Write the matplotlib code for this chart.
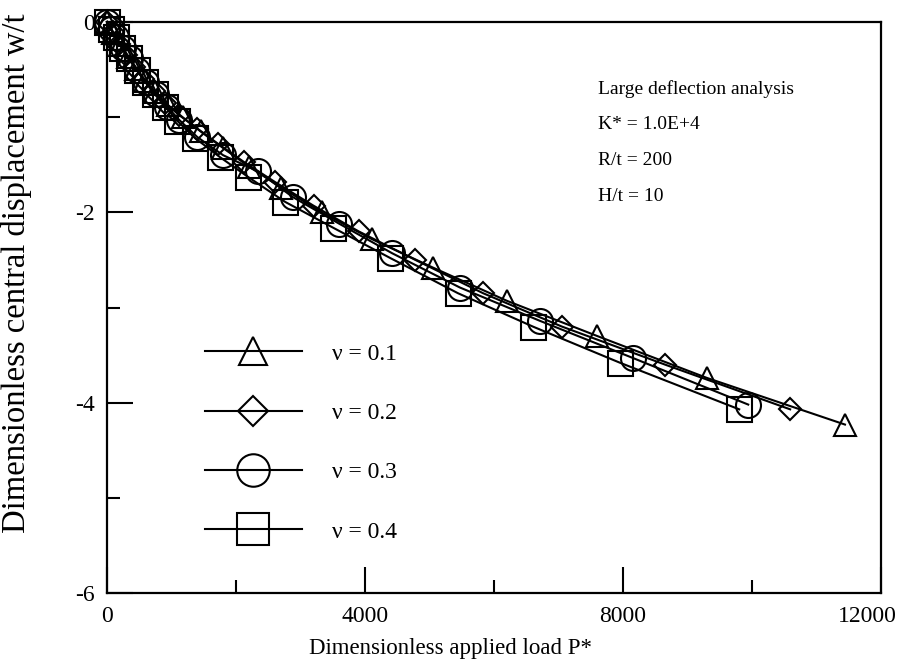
import numpy as np
import matplotlib
matplotlib.use('Agg')
import matplotlib.pyplot as plt
from matplotlib.ticker import MultipleLocator
from matplotlib.transforms import ScaledTranslation

plt.rcParams['font.family'] = ['Liberation Serif', 'DejaVu Serif']
plt.rcParams['axes.unicode_minus'] = False

# dati: carico adimensionale P* e spostamento centrale w/t
p_nu1 = [0, 95, 200, 320, 450, 590, 750, 940, 1170, 1450, 1790, 2200, 2700, 3330, 4100, 5050, 6200, 7600, 9300, 11440]
w_nu1 = [0, -0.12, -0.24, -0.37, -0.49, -0.62, -0.74, -0.87, -1.00, -1.15, -1.32, -1.52, -1.74, -2.00, -2.28, -2.58, -2.93, -3.30, -3.74, -4.23]

p_nu2 = [0, 90, 190, 300, 420, 560, 720, 900, 1120, 1400, 1720, 2120, 2600, 3200, 3900, 4780, 5830, 7050, 8650, 10590]
w_nu2 = [0, -0.11, -0.23, -0.35, -0.47, -0.60, -0.72, -0.85, -0.98, -1.12, -1.28, -1.47, -1.68, -1.93, -2.20, -2.50, -2.85, -3.20, -3.60, -4.07]

p_nu3 = [0, 60, 145, 240, 350, 470, 610, 760, 930, 1120, 1400, 1800, 2340, 2880, 3600, 4420, 5470, 6710, 8150, 9940]
w_nu3 = [0, -0.07, -0.16, -0.27, -0.38, -0.50, -0.63, -0.76, -0.89, -1.03, -1.21, -1.40, -1.57, -1.84, -2.12, -2.43, -2.79, -3.14, -3.53, -4.02]

p_nu4 = [0, 60, 140, 230, 340, 460, 590, 740, 900, 1090, 1365, 1750, 2190, 2760, 3500, 4390, 5440, 6600, 7950, 9800]
w_nu4 = [0, -0.07, -0.16, -0.27, -0.38, -0.50, -0.63, -0.76, -0.89, -1.04, -1.22, -1.42, -1.63, -1.89, -2.16, -2.48, -2.85, -3.20, -3.58, -4.07]

etichette = [r'ν = 0.1', r'ν = 0.2', r'ν = 0.3', r'ν = 0.4']
xtick = [0, 4000, 8000, 12000]
ytick = [0, -2, -4, -6]

fig = plt.figure(figsize=(9, 6.69), dpi=100)
ax = fig.add_axes([0.119, 0.1136, 0.860, 0.8535])

stile = dict(color='black', lw=1.5, mfc='none', mec='black', mew=1.5, clip_on=False)
ax.plot(p_nu1, w_nu1, marker='^', ms=16, label=etichette[0], **stile)
ax.plot(p_nu2, w_nu2, marker='D', ms=11.5, label=etichette[1], **stile)
ax.plot(p_nu3, w_nu3, marker='o', ms=18, label=etichette[2], **stile)
ax.plot(p_nu4, w_nu4, marker='s', ms=18, label=etichette[3], **stile)

ax.set_xlim(0, 12000)
ax.set_ylim(-6, 0)
ax.set_xticks(xtick)
ax.set_yticks(ytick)
ax.xaxis.set_minor_locator(MultipleLocator(2000))
ax.yaxis.set_minor_locator(MultipleLocator(1))
ax.tick_params(which='both', direction='in', width=1.5, labelsize=17, pad=9)
ax.tick_params(which='major', length=19)
ax.tick_params(which='minor', length=9.5)
for s in ax.spines.values():
    s.set_linewidth(1.6)

# l'etichetta 12000 sta dentro la figura
ultima = ax.get_xticklabels()[-1]
ultima.set_horizontalalignment('right')
ultima.set_transform(ultima.get_transform() + ScaledTranslation(16/100, 0, fig.dpi_scale_trans))

ax.set_xlabel('Dimensionless applied load P*', fontsize=16.5)
ax.xaxis.set_label_coords(0.444, -0.079)
ax.set_ylabel('Dimensionless central displacement w/t', fontsize=23.5)
ax.yaxis.set_label_coords(-0.097, 0.56)

ax.text(0.634, 0.899, 'Large deflection analysis\nK* = 1.0E+4\nR/t = 200\nH/t = 10',
        transform=ax.transAxes, fontsize=14, va='top', ha='left', linespacing=2.45)

leg = ax.legend(loc='center left', bbox_to_anchor=(0.111, 0.263), frameon=False,
                fontsize=17, handlelength=4.1, handletextpad=1.3, labelspacing=1.6,
                borderpad=0, markerscale=1.3)

plt.savefig('out.png', dpi=100)
